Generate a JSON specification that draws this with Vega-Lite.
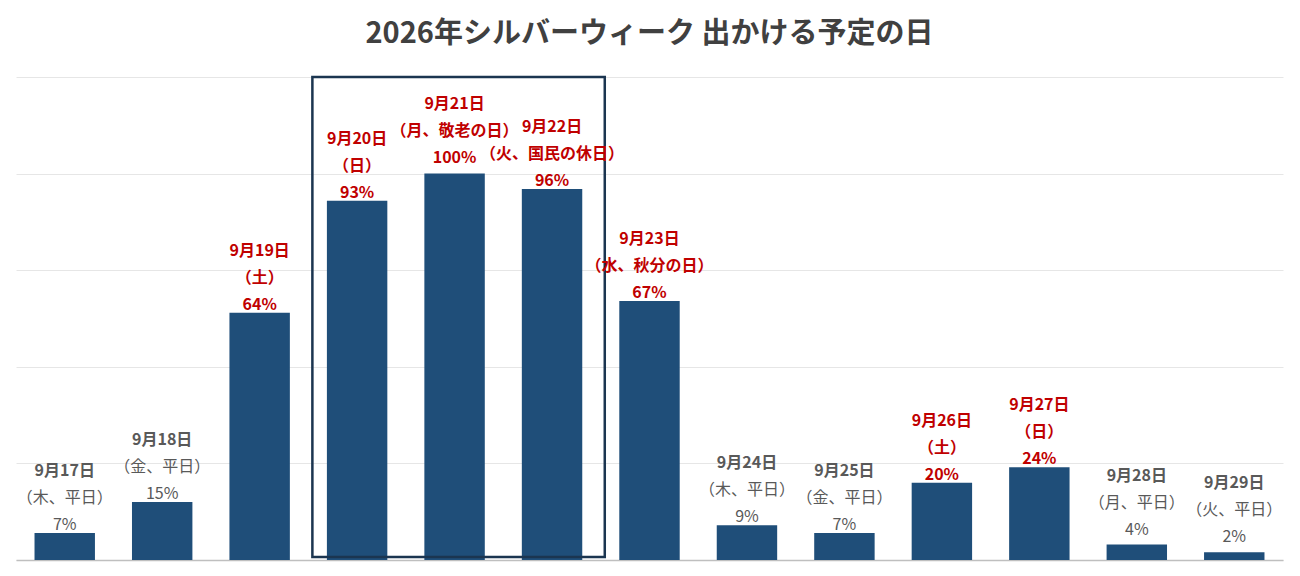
{
  "$schema": "https://vega.github.io/schema/vega-lite/v6.json",
  "width": 1267,
  "height": 483,
  "padding": {"left": 16, "top": 19, "right": 17, "bottom": 16},
  "background": "white",
  "title": {
    "text": "2026年シルバーウィーク 出かける予定の日",
    "font": "Noto Sans CJK JP",
    "fontSize": 29,
    "fontWeight": "bold",
    "color": "#404040",
    "offset": 27
  },
  "data": {
    "values": [
      {"date": "9月17日", "day": "（木、平日）", "share": 0.07, "kind": "平日"},
      {"date": "9月18日", "day": "（金、平日）", "share": 0.15, "kind": "平日"},
      {"date": "9月19日", "day": "（土）", "share": 0.64, "kind": "休日"},
      {"date": "9月20日", "day": "（日）", "share": 0.93, "kind": "休日"},
      {"date": "9月21日", "day": "（月、敬老の日）", "share": 1.0, "kind": "休日"},
      {"date": "9月22日", "day": "（火、国民の休日）", "share": 0.96, "kind": "休日"},
      {"date": "9月23日", "day": "（水、秋分の日）", "share": 0.67, "kind": "休日"},
      {"date": "9月24日", "day": "（木、平日）", "share": 0.09, "kind": "平日"},
      {"date": "9月25日", "day": "（金、平日）", "share": 0.07, "kind": "平日"},
      {"date": "9月26日", "day": "（土）", "share": 0.2, "kind": "休日"},
      {"date": "9月27日", "day": "（日）", "share": 0.24, "kind": "休日"},
      {"date": "9月28日", "day": "（月、平日）", "share": 0.04, "kind": "平日"},
      {"date": "9月29日", "day": "（火、平日）", "share": 0.02, "kind": "平日"}
    ]
  },
  "encoding": {
    "x": {
      "field": "date",
      "type": "nominal",
      "sort": null,
      "scale": {"paddingInner": 0, "paddingOuter": 0},
      "axis": {
        "title": null,
        "labels": false,
        "ticks": false,
        "grid": false,
        "domainColor": "#bfbfbf",
        "domainWidth": 1.5
      }
    },
    "y": {
      "field": "share",
      "type": "quantitative",
      "scale": {"domain": [0, 1.25], "nice": false},
      "axis": {
        "title": null,
        "labels": false,
        "ticks": false,
        "domain": false,
        "values": [0, 0.25, 0.5, 0.75, 1, 1.25],
        "gridColor": "#e6e6e6",
        "gridWidth": 1
      }
    }
  },
  "layer": [
    {
      "mark": {"type": "bar", "color": "#1f4e79", "width": {"band": 0.62}}
    },
    {
      "transform": [{"filter": "datum.date === '9月21日'"}],
      "mark": {
        "type": "rect",
        "filled": false,
        "stroke": "#1b3550",
        "strokeWidth": 2.5,
        "width": {"band": 3},
        "xOffset": 4
      },
      "encoding": {
        "y": {"datum": 1.25},
        "y2": {"datum": 0.008}
      }
    },
    {
      "transform": [{"filter": "datum.kind === '休日' && datum.date !== '9月21日'"}],
      "layer": [
        {
          "mark": {"type": "text", "baseline": "bottom", "dy": 0, "font": "Noto Sans CJK JP", "fontSize": 16, "fontWeight": "bold", "color": "#c00000"},
          "encoding": {"text": {"field": "share", "type": "quantitative", "format": ".0%"}}
        },
        {
          "mark": {"type": "text", "baseline": "bottom", "dy": -27, "font": "Noto Sans CJK JP", "fontSize": 16, "fontWeight": "bold", "color": "#c00000"},
          "encoding": {"text": {"field": "day", "type": "nominal"}}
        },
        {
          "mark": {"type": "text", "baseline": "bottom", "dy": -54, "font": "Noto Sans CJK JP", "fontSize": 16, "fontWeight": "bold", "color": "#c00000"},
          "encoding": {"text": {"field": "date", "type": "nominal"}}
        }
      ]
    },
    {
      "transform": [{"filter": "datum.date === '9月21日'"}],
      "layer": [
        {
          "mark": {"type": "text", "baseline": "bottom", "dy": -8, "font": "Noto Sans CJK JP", "fontSize": 16, "fontWeight": "bold", "color": "#c00000"},
          "encoding": {"text": {"field": "share", "type": "quantitative", "format": ".0%"}}
        },
        {
          "mark": {"type": "text", "baseline": "bottom", "dy": -35, "font": "Noto Sans CJK JP", "fontSize": 16, "fontWeight": "bold", "color": "#c00000"},
          "encoding": {"text": {"field": "day", "type": "nominal"}}
        },
        {
          "mark": {"type": "text", "baseline": "bottom", "dy": -62, "font": "Noto Sans CJK JP", "fontSize": 16, "fontWeight": "bold", "color": "#c00000"},
          "encoding": {"text": {"field": "date", "type": "nominal"}}
        }
      ]
    },
    {
      "transform": [{"filter": "datum.kind === '平日' && datum.share >= 0.07"}],
      "layer": [
        {
          "mark": {"type": "text", "baseline": "bottom", "dy": 0, "font": "Noto Sans CJK JP", "fontSize": 16, "color": "#595959"},
          "encoding": {"text": {"field": "share", "type": "quantitative", "format": ".0%"}}
        },
        {
          "mark": {"type": "text", "baseline": "bottom", "dy": -27, "font": "Noto Sans CJK JP", "fontSize": 16, "color": "#595959"},
          "encoding": {"text": {"field": "day", "type": "nominal"}}
        },
        {
          "mark": {"type": "text", "baseline": "bottom", "dy": -54, "font": "Noto Sans CJK JP", "fontSize": 16, "fontWeight": "bold", "color": "#595959"},
          "encoding": {"text": {"field": "date", "type": "nominal"}}
        }
      ]
    },
    {
      "transform": [{"filter": "datum.kind === '平日' && datum.share < 0.07"}],
      "layer": [
        {
          "mark": {"type": "text", "baseline": "bottom", "dy": -7, "font": "Noto Sans CJK JP", "fontSize": 16, "color": "#595959"},
          "encoding": {"text": {"field": "share", "type": "quantitative", "format": ".0%"}}
        },
        {
          "mark": {"type": "text", "baseline": "bottom", "dy": -34, "font": "Noto Sans CJK JP", "fontSize": 16, "color": "#595959"},
          "encoding": {"text": {"field": "day", "type": "nominal"}}
        },
        {
          "mark": {"type": "text", "baseline": "bottom", "dy": -61, "font": "Noto Sans CJK JP", "fontSize": 16, "fontWeight": "bold", "color": "#595959"},
          "encoding": {"text": {"field": "date", "type": "nominal"}}
        }
      ]
    }
  ],
  "config": {
    "view": {"stroke": null}
  }
}
